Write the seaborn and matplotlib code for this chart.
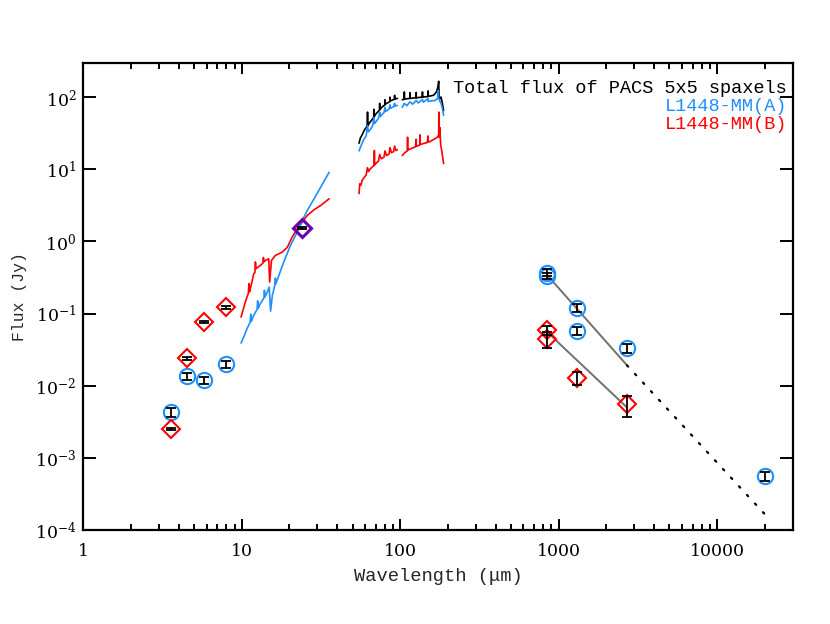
import matplotlib
matplotlib.use("Agg")
import matplotlib.pyplot as plt
import seaborn as sns
import numpy as np
import pandas as pd
from matplotlib.ticker import LogLocator, FixedLocator, FixedFormatter, NullLocator

# -------------------------------
# photometry (wavelength in um, flux in Jy)
# -------------------------------
a_wave = [3.6, 4.5, 5.8, 8.0, 850, 850, 1300, 1300, 2700, 20000]
a_flux = [0.0043, 0.0135, 0.0119, 0.020, 0.37, 0.33, 0.121, 0.058, 0.033, 5.6e-4]
a_err = [0.0006, 0.0015, 0.0012, 0.0022, 0.04, 0.03, 0.015, 0.007, 0.005, 8e-5]

b_wave = [3.6, 4.5, 5.8, 8.0, 850, 850, 1300, 2700]
b_flux = [0.0025, 0.024, 0.076, 0.122, 0.059, 0.044, 0.0128, 0.0055]
b_err = [0.0001, 0.001, 0.003, 0.005, 0.009, 0.011, 0.0027, 0.0018]

mips_wave = [24.0]
mips_flux = [1.53]
mips_err = [0.03]

# power-law fits through the (sub)mm points
fit_a_wave = [850, 2700]
fit_a_flux = [0.338, 0.0192]
extrap_wave = [2700, 20000]
extrap_flux = [0.0192, 1.66e-4]
fit_b_wave = [850, 2700]
fit_b_flux = [0.055, 0.0050]

# -------------------------------
# spectra
# -------------------------------
irs_a_wave = [9.9, 10.4, 10.8, 11.3, 11.4, 11.5, 11.9, 12.5, 12.6, 12.7, 13.1, 13.8,
              13.9, 14.0, 14.5, 14.9, 15.2, 15.6, 16.2, 16.3, 16.4, 16.7, 18.4, 20.3,
              22.4, 24.1, 25.9, 28.6, 31.5, 35.6]
irs_a_flux = [0.039, 0.050, 0.062, 0.076, 0.098, 0.078, 0.094, 0.115, 0.150, 0.118,
              0.137, 0.165, 0.21, 0.170, 0.199, 0.233, 0.108, 0.179, 0.25, 0.31, 0.26,
              0.288, 0.517, 0.88, 1.35, 1.95, 2.69, 3.90, 5.65, 9.1]

irs_b_wave = [9.9, 10.6, 11.0, 11.1, 11.2, 11.4, 11.9, 12.1, 12.2, 12.3, 13.1, 13.6,
              13.7, 13.8, 14.1, 14.8, 15.0, 15.4, 16.3, 18.0, 19.4, 20.8, 22.4, 24.1,
              25.9, 28.6, 31.5, 35.6]
irs_b_flux = [0.0895, 0.152, 0.19, 0.26, 0.20, 0.233, 0.357, 0.37, 0.52, 0.42, 0.465,
              0.50, 0.60, 0.52, 0.545, 0.575, 0.273, 0.545, 0.64, 0.71, 0.83, 1.15,
              1.50, 1.85, 2.29, 2.75, 3.15, 3.90]

tot1_wave = [55, 56, 57.5, 59, 60.5, 62, 62.2, 62.4, 64, 66, 68, 68.2, 68.4, 70, 72,
             74, 74.2, 74.4, 76, 78, 80, 80.2, 80.4, 82, 84, 86, 86.2, 86.4, 88, 90,
             92, 92.2, 92.4, 94, 96]
tot1_flux = [23, 27, 30, 34, 37, 40, 62, 40, 44, 48, 52, 68, 53, 58, 62, 66, 82, 67,
             71, 75, 78, 92, 79, 82, 84, 87, 100, 88, 90, 92, 93, 106, 94, 95, 96]
tot2_wave = [103, 106, 106.2, 106.4, 110, 115, 115.2, 115.4, 120, 126, 126.2, 126.4,
             132, 138, 138.2, 138.4, 144, 150, 150.2, 150.4, 156, 162, 166, 170, 173,
             175, 176, 178, 181, 184, 188]
tot2_flux = [92, 93, 118, 94, 95, 96, 115, 96, 97, 98, 116, 98, 99, 100, 118, 100,
             101, 102, 122, 103, 104, 106, 112, 120, 140, 166, 105, 95, 100, 85, 65]

pacs_a1_wave = [55, 57, 59, 61, 62.2, 63, 65, 67, 68.2, 69, 71, 73, 74.2, 75, 77, 79,
                80.2, 81, 83, 85, 86.2, 87, 89, 91, 92.2, 93, 96]
pacs_a1_flux = [18, 22, 26, 29, 40, 33, 36, 40, 52, 43, 47, 51, 62, 54, 58, 61, 72, 63,
                66, 68, 78, 70, 72, 74, 82, 75, 77]
pacs_a2_wave = [103, 106.2, 110, 115.2, 120, 126.2, 130, 138.2, 140, 150.2, 150, 160,
                166, 170, 173, 174, 175, 178, 181, 184, 188]
pacs_a2_flux = [72, 82, 76, 86, 80, 90, 83, 93, 85, 96, 87, 89, 90, 93, 100, 123, 96,
                88, 82, 72, 56]

pacs_b1_wave = [55, 55.5, 56.5, 57.5, 59, 61, 62.2, 63, 65, 67, 68.5, 68.7, 68.9, 70,
                73, 74.2, 76, 79, 80.2, 82, 85, 86.2, 88, 91, 92.2, 94, 96]
pacs_b1_flux = [4.6, 6.3, 6.0, 7.0, 7.6, 8.4, 10.5, 9.3, 10.2, 10.9, 11.3, 18.2, 11.4,
                12.0, 13.0, 16.0, 14.0, 14.7, 18.0, 15.5, 16.3, 20.0, 17.0, 17.6, 21.0,
                18.2, 18.6]
pacs_b2_wave = [103, 107, 111, 111.3, 111.6, 115, 120, 125, 126.2, 126.4, 130, 133,
                133.3, 133.6, 138, 143, 148, 150.2, 150.4, 153, 158, 163, 168, 172, 175,
                175.3, 175.6, 178, 180, 183, 185, 188]
pacs_b2_flux = [15.5, 17, 18, 27.8, 18.5, 19, 19.8, 20.5, 26, 20.8, 21.2, 22, 30, 22,
                22.5, 23, 23.5, 29, 24, 24, 25, 26, 27, 28, 30, 62, 28, 38, 22, 18, 15,
                12]

BLUE = "#1e8fff"
RED = "#ff0000"
PURPLE = "#6a00b0"

sns.set_theme(style="ticks")
plt.rcParams["font.family"] = ["DejaVu Serif"]
plt.rcParams["mathtext.fontset"] = "dejavuserif"
MONO = ["Liberation Mono", "DejaVu Sans Mono"]

spec_parts = []
for name, w, f, col in [
    ("tot1", tot1_wave, tot1_flux, "total"), ("tot2", tot2_wave, tot2_flux, "total"),
    ("a1", pacs_a1_wave, pacs_a1_flux, "A"), ("a2", pacs_a2_wave, pacs_a2_flux, "A"),
    ("irsa", irs_a_wave, irs_a_flux, "A"),
    ("b1", pacs_b1_wave, pacs_b1_flux, "B"), ("b2", pacs_b2_wave, pacs_b2_flux, "B"),
    ("irsb", irs_b_wave, irs_b_flux, "B"),
]:
    spec_parts.append(pd.DataFrame({"wave": w, "flux": f, "seg": name, "src": col}))
spec = pd.concat(spec_parts, ignore_index=True)

fig = plt.figure(figsize=(8.3, 6.24), dpi=100)
ax = fig.add_axes([0.1004, 0.1506, 0.8546, 0.7489])

sns.lineplot(data=spec, x="wave", y="flux", hue="src", units="seg", estimator=None,
             sort=False, palette={"total": "black", "A": BLUE, "B": RED},
             hue_order=["total", "B", "A"], linewidth=1.2, legend=False, ax=ax)

# fits
ax.plot(fit_a_wave, fit_a_flux, color="#707070", lw=1.4)
ax.plot(fit_b_wave, fit_b_flux, color="#707070", lw=1.4)
ax.plot(extrap_wave, extrap_flux, color="black", lw=1.6, linestyle=(0, (0.8, 4.5)),
        dash_capstyle="round")

# photometry
ax.plot(a_wave, a_flux, "o", ms=11, mfc="none", mec=BLUE, mew=1.5)
ax.plot(b_wave, b_flux, "D", ms=9.5, mfc="none", mec=RED, mew=1.5)
ax.plot(mips_wave, mips_flux, "D", ms=9.5, mfc="none", mec=PURPLE, mew=2.2)
for w, f, e in [(a_wave, a_flux, a_err), (b_wave, b_flux, b_err),
                (mips_wave, mips_flux, mips_err)]:
    ax.errorbar(w, f, yerr=e, fmt="none", ecolor="black", elinewidth=1.3,
                capsize=3.5, capthick=1.3)

ax.set_xscale("log")
ax.set_yscale("log")
ax.set_xlim(1, 3e4)
ax.set_ylim(1e-4, 3e2)

ax.xaxis.set_major_locator(FixedLocator([1, 10, 100, 1000, 10000]))
ax.xaxis.set_major_formatter(FixedFormatter(["1", "10", "100", "1000", "10000"]))
ax.xaxis.set_minor_locator(LogLocator(base=10, subs=np.arange(2, 10), numticks=20))
ax.yaxis.set_major_locator(LogLocator(base=10, numticks=20))
ax.yaxis.set_minor_locator(NullLocator())

ax.tick_params(which="both", direction="in", top=True, right=True, colors="black",
               labelsize=12.5, width=1.4)
ax.tick_params(axis="x", which="major", length=8, pad=9)
ax.tick_params(axis="x", which="minor", length=4)
ax.tick_params(axis="y", which="major", length=9.5, pad=5)
for s in ax.spines.values():
    s.set_linewidth(1.6)
    s.set_color("black")

ax.set_xlabel("Wavelength (μm)", fontsize=13.5, family=MONO, labelpad=6)
ax.set_ylabel("Flux (Jy)", fontsize=11.8, family=MONO, labelpad=6)

ax.text(0.992, 0.945, "Total flux of PACS 5x5 spaxels", transform=ax.transAxes,
        ha="right", va="center", fontsize=13.4, family=MONO, color="black")
ax.text(0.992, 0.906, "L1448-MM(A)", transform=ax.transAxes,
        ha="right", va="center", fontsize=13.4, family=MONO, color=BLUE)
ax.text(0.992, 0.868, "L1448-MM(B)", transform=ax.transAxes,
        ha="right", va="center", fontsize=13.4, family=MONO, color=RED)

fig.savefig("out.png", dpi=100)
